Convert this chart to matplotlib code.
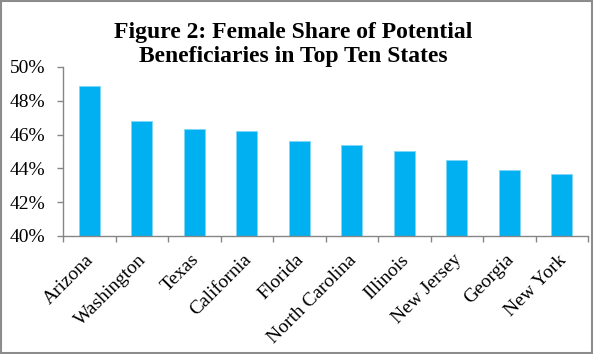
import matplotlib
matplotlib.use("Agg")
import matplotlib.pyplot as plt
from matplotlib.ticker import FixedLocator, PercentFormatter
from matplotlib.patches import Rectangle
from matplotlib.transforms import ScaledTranslation

states = ["Arizona", "Washington", "Texas", "California", "Florida",
          "North Carolina", "Illinois", "New Jersey", "Georgia", "New York"]
female_share = [48.9, 46.8, 46.35, 46.2, 45.65, 45.4, 45.0, 44.5, 43.9, 43.65]
yticks = [40, 42, 44, 46, 48, 50]
title = "Figure 2: Female Share of Potential\nBeneficiaries in Top Ten States"

plt.rcParams['font.family'] = ['Liberation Serif', 'DejaVu Serif']

fig = plt.figure(figsize=(5.93, 3.54), dpi=100)
ax = fig.add_axes([63/593, 1-236/354, (588-63)/593, (236-67)/354])

x = list(range(len(states)))
ax.bar(x, female_share, width=0.4, color="#00B0F0", edgecolor="#7FD8F7", linewidth=0.6, zorder=2)

ax.set_ylim(40, 50)
ax.set_xlim(-0.5, len(states) - 0.5)
ax.set_yticks(yticks)
ax.yaxis.set_major_formatter(PercentFormatter(decimals=0))
ax.set_xticks(x)
ax.set_xticklabels(states, rotation=45, ha="right", rotation_mode="anchor")
ax.xaxis.set_minor_locator(FixedLocator([i - 0.5 for i in range(len(states) + 1)]))
ax.tick_params(axis="x", which="major", length=0, pad=11, labelsize=14)
ax.tick_params(axis="x", which="minor", length=4, color="#868686", width=1)
ax.tick_params(axis="y", length=4, color="#868686", width=1, labelsize=14, pad=9)

shift = ScaledTranslation(-4/100, 0, fig.dpi_scale_trans)
for lbl in ax.get_xticklabels():
    lbl.set_transform(lbl.get_transform() + shift)

for s in ["top", "right"]:
    ax.spines[s].set_visible(False)
for s in ["left", "bottom"]:
    ax.spines[s].set_color("#868686")
    ax.spines[s].set_linewidth(1)

fig.text(0.494, 0.938, title, ha="center", va="top", fontsize=17,
         fontweight="bold", linespacing=1.2)

fig.patches.append(Rectangle((0.0015, 0.002), 0.997, 0.996, transform=fig.transFigure,
                             fill=False, edgecolor="#8c8c8c", linewidth=1.5))

fig.savefig("out.png", dpi=100)
